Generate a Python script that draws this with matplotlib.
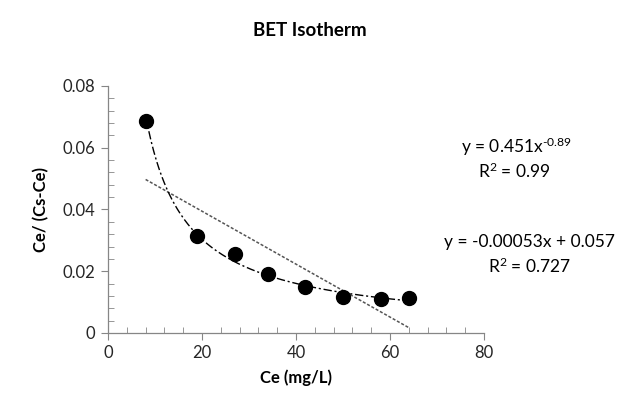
import numpy as np
import matplotlib
matplotlib.use("Agg")
import matplotlib.pyplot as plt
from matplotlib.ticker import MultipleLocator, FuncFormatter

# data
ce = [8, 19, 27, 34, 42, 50, 58, 64]
ratio = [0.0688, 0.0315, 0.0256, 0.0190, 0.0148, 0.0118, 0.0110, 0.0113]

power_label = "y = 0.451x$^{\\mathregular{\u2010}0.89}$"
power_r2 = "R$^{2}$ = 0.99"
linear_label = "y = -0.00053x + 0.057"
linear_r2 = "R$^{2}$ = 0.727"

plt.rcParams["font.family"] = ["Lato", "DejaVu Sans"]
plt.rcParams["mathtext.fontset"] = "custom"
plt.rcParams["mathtext.rm"] = "Lato"
plt.rcParams["mathtext.default"] = "rm"
plt.rcParams["axes.unicode_minus"] = False

fig = plt.figure(figsize=(6.23, 4.11), dpi=100)
ax = fig.add_axes([0.1734, 0.1898, 0.6035, 0.601])

x = np.array(ce, dtype=float)
y = np.array(ratio, dtype=float)
xs = np.linspace(x.min(), x.max(), 200)

# linear trendline
m, c = np.polyfit(x, y, 1)
ax.plot(xs, m * xs + c, color="#555555", lw=1.1, linestyle=(0, (2, 1.2)), zorder=2)

# power trendline (fit in log space)
b, loga = np.polyfit(np.log(x), np.log(y), 1)
ax.plot(xs, np.exp(loga) * xs ** b, color="black", lw=1.0,
        linestyle=(0, (6, 2, 1.5, 2)), zorder=2)

ax.plot(x, y, "o", color="black", markersize=10, zorder=3)

ax.set_xlim(0, 80)
ax.set_ylim(0, 0.08)
ax.xaxis.set_major_locator(MultipleLocator(20))
ax.xaxis.set_minor_locator(MultipleLocator(4))
ax.yaxis.set_major_locator(MultipleLocator(0.02))
ax.yaxis.set_minor_locator(MultipleLocator(0.004))
ax.yaxis.set_major_formatter(FuncFormatter(lambda v, p: "0" if abs(v) < 1e-9 else f"{v:.2f}"))

for side in ["top", "right"]:
    ax.spines[side].set_visible(False)
for side in ["left", "bottom"]:
    ax.spines[side].set_color("#868686")
    ax.spines[side].set_linewidth(0.9)

ax.tick_params(which="major", direction="out", length=5, color="#868686",
               labelsize=12, labelcolor="#262626", pad=4)
ax.tick_params(which="minor", direction="in", length=4, color="#868686")

ax.set_xlabel("Ce (mg/L)", fontsize=12, fontweight="bold", labelpad=6)
ax.set_ylabel("Ce/ (Cs-Ce)", fontsize=12, fontweight="bold", labelpad=10)
fig.text(0.497, 0.925, "BET Isotherm", ha="center", va="center",
         fontsize=13.5, fontweight="bold")

fig.text(516 / 623, 1 - 147 / 411, power_label, ha="center", va="center", fontsize=12.5)
fig.text(514 / 623, 1 - 171 / 411, power_r2, ha="center", va="center", fontsize=12.5)
fig.text(530 / 623, 1 - 242 / 411, linear_label, ha="center", va="center", fontsize=12.5)
fig.text(530 / 623, 1 - 266 / 411, linear_r2, ha="center", va="center", fontsize=12.5)

fig.savefig("out.png", dpi=100)
